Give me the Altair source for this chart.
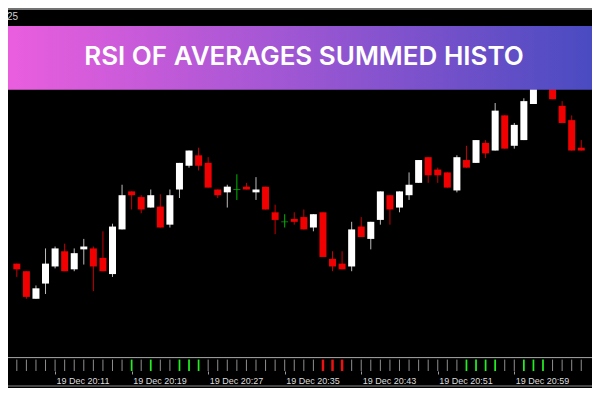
import altair as alt
import pandas as pd

# ---------------- data ----------------
opens = [1913.1, 1912.3, 1909.4, 1911.0, 1912.8, 1914.4, 1912.5, 1914.6, 1914.7, 1913.7,
         1912.0, 1916.7, 1920.7, 1920.1, 1919.0, 1919.1, 1917.2, 1920.9, 1923.4, 1924.5,
         1923.7, 1920.9, 1920.6, 1920.9, 1921.2, 1920.6, 1921.2, 1918.5, 1917.5, 1917.8,
         1918.0, 1916.9, 1918.5, 1913.6, 1913.1, 1912.8, 1917.0, 1915.7, 1917.7, 1920.3,
         1919.0, 1920.3, 1921.6, 1924.3, 1923.0, 1922.7, 1920.8, 1924.0, 1923.7, 1925.8,
         1925.0, 1928.7, 1925.5, 1926.1, 1929.9, 1932.0, 1932.6, 1929.7, 1928.2, 1925.3]
highs = [1913.1, 1912.3, 1910.8, 1914.7, 1914.9, 1915.2, 1914.7, 1915.7, 1914.9, 1916.5,
         1917.3, 1921.4, 1920.7, 1920.3, 1920.9, 1920.4, 1920.9, 1923.7, 1925.0, 1925.3,
         1924.3, 1920.9, 1921.4, 1922.5, 1921.6, 1922.2, 1921.2, 1919.3, 1918.3, 1918.5,
         1918.8, 1918.3, 1918.5, 1914.4, 1914.4, 1917.5, 1918.0, 1917.5, 1920.7, 1920.3,
         1920.7, 1922.7, 1924.0, 1924.3, 1923.2, 1922.7, 1924.5, 1925.5, 1926.1, 1926.1,
         1930.0, 1928.7, 1927.9, 1930.5, 1932.4, 1933.2, 1933.0, 1930.2, 1928.7, 1926.1]
lows = [1911.7, 1909.4, 1909.4, 1909.9, 1912.6, 1912.3, 1912.3, 1913.0, 1910.2, 1912.3,
        1911.7, 1916.7, 1918.8, 1918.4, 1919.0, 1916.9, 1916.9, 1920.0, 1923.2, 1922.9,
        1921.1, 1920.0, 1919.0, 1919.8, 1920.9, 1919.8, 1918.8, 1916.2, 1916.9, 1917.2,
        1916.7, 1916.5, 1913.8, 1912.3, 1912.5, 1912.3, 1915.9, 1914.6, 1917.2, 1917.2,
        1918.5, 1919.8, 1921.6, 1921.6, 1921.6, 1921.1, 1920.6, 1923.2, 1923.7, 1924.2,
        1925.0, 1925.2, 1925.2, 1926.1, 1929.9, 1931.6, 1930.4, 1927.9, 1925.0, 1925.0]
closes = [1912.5, 1909.6, 1910.5, 1913.1, 1914.7, 1912.3, 1914.2, 1914.9, 1912.8, 1912.3,
          1917.0, 1920.3, 1920.3, 1918.8, 1920.3, 1916.9, 1920.3, 1923.7, 1925.0, 1923.4,
          1921.1, 1920.3, 1921.2, 1920.9, 1920.9, 1920.9, 1918.8, 1917.7, 1917.5, 1917.5,
          1916.7, 1918.3, 1913.8, 1912.8, 1912.5, 1916.7, 1915.9, 1917.5, 1920.7, 1918.8,
          1920.7, 1921.4, 1924.0, 1922.4, 1922.4, 1921.1, 1924.3, 1923.2, 1926.1, 1924.7,
          1929.2, 1925.2, 1927.7, 1930.2, 1932.0, 1932.8, 1930.4, 1927.9, 1925.0, 1925.0]

# indicator histogram: state per bar and bar value
histo_state = [
    "flat", "flat", "flat", "flat", "flat", "flat", "flat", "flat", "flat", "flat",
    "flat", "flat", "up", "flat", "up", "flat", "flat", "up", "up", "up",
    "flat", "flat", "flat", "flat", "flat", "flat", "flat", "flat", "flat", "flat",
    "flat", "flat", "down", "down", "down", "flat", "flat", "flat", "flat", "flat",
    "flat", "flat", "flat", "flat", "flat", "flat", "flat", "up", "up", "up",
    "up", "flat", "flat", "up", "up", "up", "flat", "flat", "flat", "flat"]
histo_value = [1, 1, 1, 1, 1, 1, 1, 1, 1, 1, 1, 1, 1, 1, 1, 1, 1, 1, 1, 1,
               1, 1, 1, 1, 1, 1, 1, 1, 1, 1, 1, 1, 1, 1, 1, 1, 1, 1, 1, 1,
               1, 1, 1, 1, 1, 1, 1, 1, 1, 1, 1, 1, 1, 1, 1, 1, 1, 1, 1, 1]

tick_minutes = [(20, 3), (20, 11), (20, 19), (20, 27), (20, 35), (20, 43), (20, 51), (20, 59)]
title_text = "RSI OF AVERAGES SUMMED HISTO"

# ---------------- build table ----------------
times = pd.date_range("2023-12-19 20:07", periods=len(opens), freq="min")
df = pd.DataFrame({
    "time": times.strftime("%Y-%m-%dT%H:%M:%S"),
    "open": opens, "high": highs, "low": lows, "close": closes,
    "state": histo_state, "histo": histo_value,
})
df["kind"] = ["up" if c > o else ("down" if c < o else "doji") for o, c in zip(opens, closes)]

W, H = 584, 363
BOTTOM = 17


def dt(h, m, s=0):
    return alt.DateTime(year=2023, month=12, date=19, hours=h, minutes=m, seconds=s)


xdomain = [dt(20, 6, 36), dt(21, 6, 36)]
xscale = alt.Scale(domain=xdomain, nice=False)
yscale = alt.Scale(domain=[1901.8, 1940.0], nice=False, zero=False)

x_axis = alt.Axis(
    values=[dt(h, m) for h, m in tick_minutes], format="%d %b %H:%M",
    labelAlign="left", labelBaseline="top", labelOffset=1, labelPadding=2,
    labelColor="#dddddd", labelFont="Liberation Sans", labelFontSize=9,
    tickColor="#9a9a9a", tickSize=3, domain=False, grid=False, title=None,
    labelOverlap=False, labelFlush=False, labelBound=False,
)

base = alt.Chart(df)
X = alt.X("time:T", scale=xscale, axis=x_axis)

wicks = base.mark_rule(strokeWidth=1).encode(
    x=X,
    y=alt.Y("low:Q", scale=yscale, axis=None),
    y2="high:Q",
    color=alt.Color("kind:N", scale=alt.Scale(domain=["up", "down", "doji"],
                                              range=["#bdbdbd", "#c80000", "#00b400"]), legend=None),
)
bodies = base.transform_filter("datum.kind != 'doji'").mark_bar(size=7).encode(
    x=X,
    y=alt.Y("open:Q", scale=yscale, axis=None),
    y2="close:Q",
    color=alt.Color("kind:N", scale=alt.Scale(domain=["up", "down"],
                                              range=["#ffffff", "#f00000"]), legend=None),
)
dojis = base.transform_filter("datum.kind == 'doji'").mark_tick(
    orient="horizontal", size=7, thickness=1, color="#00b400").encode(
    x=X,
    y=alt.Y("open:Q", scale=yscale, axis=None),
)
price = alt.layer(wicks, bodies, dojis).resolve_scale(color="independent")

histo = base.mark_rule().encode(
    x=X,
    y=alt.Y("histo:Q", scale=alt.Scale(domain=[0, 31.83], nice=False), axis=None),
    y2=alt.datum(0),
    color=alt.Color("state:N", scale=alt.Scale(domain=["flat", "up", "down"],
                                               range=["#8e8e8e", "#22ee22", "#ee1111"]), legend=None),
    strokeWidth=alt.StrokeWidth("state:N", scale=alt.Scale(domain=["flat", "up", "down"],
                                                           range=[1, 2.5, 2.5]), legend=None),
)

one = alt.Chart(pd.DataFrame({"label": [title_text]}))
banner = one.mark_rect(
    color=alt.Gradient(gradient="linear",
                       stops=[alt.GradientStop(offset=0, color="#ea5ede"),
                              alt.GradientStop(offset=0.5, color="#9d56d3"),
                              alt.GradientStop(offset=1, color="#4a4bc1")],
                       x1=0, x2=1, y1=0, y2=0)
).encode(x=alt.value(0), x2=alt.value(W), y=alt.value(18), y2=alt.value(81.7))
banner_text = one.mark_text(font="Inter", fontSize=26, fontWeight=600, color="white",
                            align="center", baseline="middle").encode(
    x=alt.value(296), y=alt.value(48.5), text="label:N")
corner = alt.Chart(pd.DataFrame({"label": ["25"]})).mark_text(
    font="Liberation Sans", fontSize=10, color="#cfcfcf", align="left", baseline="middle").encode(
    x=alt.value(-1), y=alt.value(9), text="label:N")
top_line = one.mark_rule(color="#e6e6e6", strokeWidth=1).encode(
    x=alt.value(0), x2=alt.value(W), y=alt.value(1))
sep_line = one.mark_rule(color="#a8a8a8", strokeWidth=1).encode(
    x=alt.value(0), x2=alt.value(W), y=alt.value(349.6))
bottom_line = one.mark_rule(color="#8a8a8a", strokeWidth=1).encode(
    x=alt.value(0), x2=alt.value(W), y=alt.value(378))

deco = alt.layer(banner, banner_text, corner, top_line, sep_line, bottom_line)

chart = alt.layer(price, histo, deco).resolve_scale(
    y="independent", color="independent", strokeWidth="independent"
).properties(
    width=W, height=H, background="black",
    autosize=alt.AutoSizeParams(type="none"),
    padding={"left": 0, "right": 0, "top": 0, "bottom": BOTTOM},
).configure_view(stroke=None)

chart.save("out.html", embed_options={"renderer": "svg", "actions": False})
